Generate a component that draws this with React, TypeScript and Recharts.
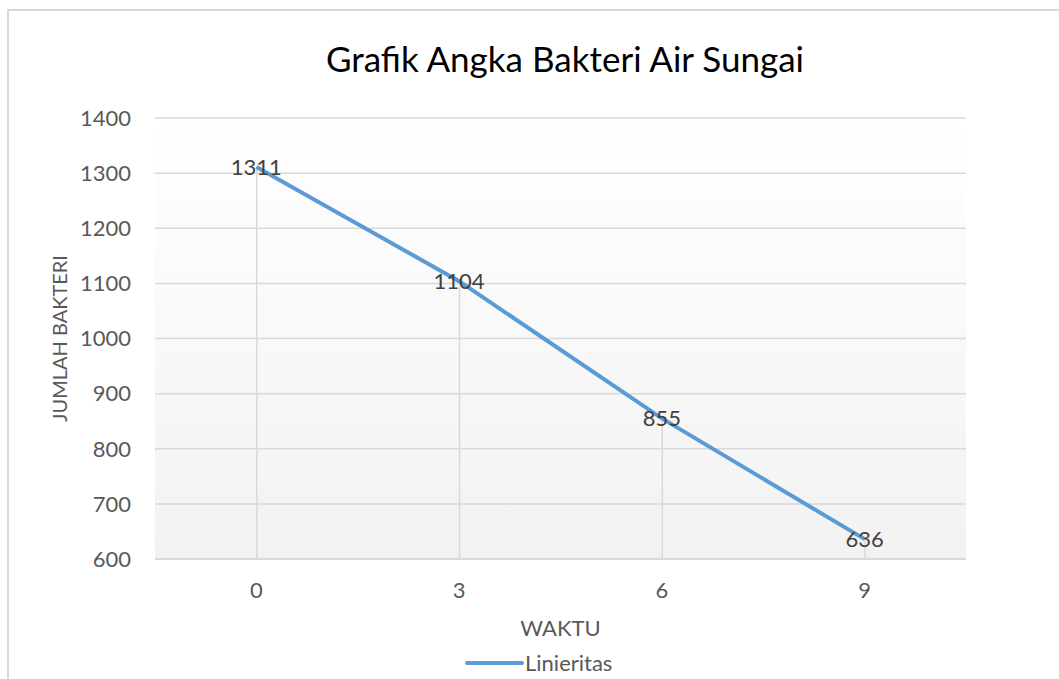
import React from "react";
import { ComposedChart, Line, Bar, XAxis, YAxis, CartesianGrid, Label } from "recharts";

const categories = ["0", "3", "6", "9"];
const values = [1311, 1104, 855, 636];
const yTicks = [600, 700, 800, 900, 1000, 1100, 1200, 1300, 1400];
const title = "Grafik Angka Bakteri Air Sungai";
const seriesName = "Linieritas";
const xTitle = "WAKTU";
const yTitle = "JUMLAH BAKTERI";

const data = categories.map((c, i) => ({ t: c, v: values[i] }));

const FONT = "Lato, 'Open Sans', sans-serif";

const renderDataLabel = (props: any) => {
  const { x, y, value } = props;
  return (
    <text x={x} y={y} dy="0.36em" textAnchor="middle" fill="#404040" fontSize={22} fontFamily={FONT}>
      {value}
    </text>
  );
};

export default function App() {
  return (
    <div style={{ position: "fixed", left: 0, top: 0, width: 1059, height: 679, overflow: "hidden", background: "#fff" }}>
      <div
        style={{
          position: "absolute",
          left: 7,
          top: 9,
          width: 1052,
          height: 670,
          borderTop: "2px solid #d9d9d9",
          borderLeft: "2px solid #d9d9d9",
          boxSizing: "border-box",
        }}
      />
      <div style={{ position: "absolute", left: 0, top: 0 }}>
        <ComposedChart
          width={1059}
          height={679}
          data={data}
          margin={{ top: 118, right: 93, left: 0, bottom: 0 }}
        >
          <defs>
            <linearGradient id="plotBg" x1="0" y1="0" x2="0" y2="1">
              <stop offset="0%" stopColor="#ffffff" />
              <stop offset="100%" stopColor="#f2f2f2" />
            </linearGradient>
          </defs>
          <CartesianGrid vertical={false} stroke="#d9d9d9" strokeWidth={1.5} fill="url(#plotBg)" />
          <XAxis
            dataKey="t"
            type="category"
            height={120}
            axisLine={{ stroke: "#d9d9d9", strokeWidth: 2 }}
            tickLine={false}
            tickSize={0}
            tickMargin={23}
            tick={{ fill: "#595959", fontSize: 22, fontFamily: FONT }}
          >
            <Label
              content={(p: any) => {
                const vb = p.viewBox;
                return (
                  <text x={vb.x + vb.width / 2} y={vb.y + 77} textAnchor="middle" fill="#595959" fontSize={22} fontFamily={FONT}>
                    {xTitle}
                  </text>
                );
              }}
            />
          </XAxis>
          <YAxis
            type="number"
            domain={[600, 1400]}
            ticks={yTicks}
            width={155}
            axisLine={false}
            tickLine={false}
            tickSize={0}
            tickMargin={24}
            interval={0}
            tick={{ fill: "#595959", fontSize: 22, fontFamily: FONT }}
          >
            <Label
              content={(p: any) => {
                const vb = p.viewBox;
                const cx = vb.x + 67;
                const cy = vb.y + vb.height / 2;
                return (
                  <text
                    x={cx}
                    y={cy}
                    transform={`rotate(-90 ${cx} ${cy})`}
                    textAnchor="middle"
                    fill="#595959"
                    fontSize={20}
                    fontFamily={FONT}
                  >
                    {yTitle}
                  </text>
                );
              }}
            />
          </YAxis>
          <Bar dataKey="v" barSize={1.5} fill="#d9d9d9" isAnimationActive={false} />
          <Line
            dataKey="v"
            name={seriesName}
            stroke="#5b9bd5"
            strokeWidth={4}
            dot={false}
            activeDot={false}
            isAnimationActive={false}
            label={renderDataLabel}
          />
        </ComposedChart>
      </div>
      <svg
        width={1059}
        height={679}
        style={{ position: "absolute", left: 0, top: 0, pointerEvents: "none" }}
      >
        <text x={565} y={72} textAnchor="middle" fill="#000" fontSize={35} fontFamily={FONT}>
          {title}
        </text>
        <line x1={467} y1={663} x2={522} y2={663} stroke="#5b9bd5" strokeWidth={4} strokeLinecap="round" />
        <text x={525} y={671} fill="#595959" fontSize={22} fontFamily={FONT}>
          {seriesName}
        </text>
      </svg>
    </div>
  );
}
